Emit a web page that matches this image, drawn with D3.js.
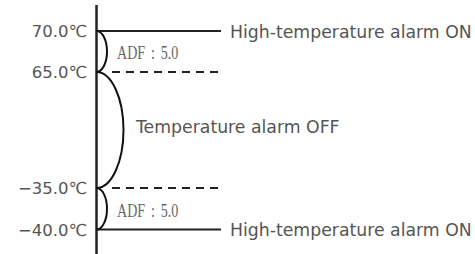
<!DOCTYPE html>
<html>
<head>
<meta charset="utf-8">
<script src="https://cdn.jsdelivr.net/npm/d3@7"></script>
<style>
  html, body { margin: 0; padding: 0; background: #fff; }
  svg { display: block; }
</style>
</head>
<body>
<figure style="margin:0"></figure>
<script>
// set points (°C) from top to bottom
const levels = [70, 65, -35, -40];
const levelLabels = ["70.0℃", "65.0℃", "−35.0℃", "−40.0℃"];
// which levels get a solid alarm line / dashed release line
const alarmLevels = [70, -40];
const releaseLevels = [65, -35];
const alarmText = ["High-temperature alarm ON", "High-temperature alarm ON"];
// brace spans
const adfSpans = [[70, 65], [-35, -40]];
const adfText = ["ADF : 5.0", "ADF : 5.0"];
const offSpan = [65, -35];
const offText = "Temperature alarm OFF";

const width = 475, height = 254;
const axisX = 96.5;
const font = "'DejaVu Sans', sans-serif";
const textColor = "#555";

const svg = d3.select("figure").append("svg")
  .attr("width", width)
  .attr("height", height);

// schematic (non-linear) vertical scale
const y = d3.scaleLinear()
  .domain(levels)
  .range([31, 72, 188, 229.5]);

// vertical axis line
svg.append("line")
  .attr("x1", axisX).attr("x2", axisX)
  .attr("y1", 5).attr("y2", height)
  .attr("stroke", "#222")
  .attr("stroke-width", 2.5);

// level labels on the left
svg.selectAll(".lvl")
  .data(levels)
  .enter()
  .append("text")
  .attr("x", 87)
  .attr("y", d => y(d))
  .attr("dy", "0.38em")
  .attr("text-anchor", "end")
  .style("font-family", font)
  .style("font-size", "16.5px")
  .style("fill", textColor)
  .text((d, i) => levelLabels[i]);

// solid alarm lines
svg.selectAll(".alarm")
  .data(alarmLevels)
  .enter()
  .append("line")
  .attr("x1", axisX).attr("x2", 221)
  .attr("y1", d => y(d)).attr("y2", d => y(d))
  .attr("stroke", "#222")
  .attr("stroke-width", 2);

svg.selectAll(".alarmText")
  .data(alarmLevels)
  .enter()
  .append("text")
  .attr("x", 230)
  .attr("y", d => y(d))
  .attr("dy", "0.4em")
  .style("font-family", font)
  .style("font-size", "17.3px")
  .style("fill", textColor)
  .text((d, i) => alarmText[i]);

// dashed release lines
svg.selectAll(".release")
  .data(releaseLevels)
  .enter()
  .append("line")
  .attr("x1", 112).attr("x2", 218)
  .attr("y1", d => y(d)).attr("y2", d => y(d))
  .attr("stroke", "#222")
  .attr("stroke-width", 2)
  .attr("stroke-dasharray", "8,6");

// braces as half ellipses
function brace(a, b, rx) {
  const y1 = y(a), y2 = y(b);
  const ry = (y2 - y1) / 2;
  return `M${axisX},${y1} A${rx},${ry} 0 0 1 ${axisX},${y2}`;
}

svg.selectAll(".adf")
  .data(adfSpans)
  .enter()
  .append("path")
  .attr("d", d => brace(d[0], d[1], 10.5))
  .attr("fill", "none")
  .attr("stroke", "#111")
  .attr("stroke-width", 2);

svg.append("path")
  .attr("d", brace(offSpan[0], offSpan[1], 27))
  .attr("fill", "none")
  .attr("stroke", "#111")
  .attr("stroke-width", 2);

// condensed serif label, squeezed horizontally
svg.selectAll(".adfText")
  .data(adfSpans)
  .enter()
  .append("text")
  .attr("transform", d => `translate(117,${(y(d[0]) + y(d[1])) / 2}) scale(0.78,1)`)
  .attr("dy", "0.44em")
  .style("font-family", "'Liberation Serif', serif")
  .style("font-size", "18px")
  .style("word-spacing", "3px")
  .style("fill", "#666")
  .text((d, i) => adfText[i]);

svg.append("text")
  .attr("x", 136)
  .attr("y", (y(offSpan[0]) + y(offSpan[1])) / 2)
  .attr("dy", "0.2em")
  .style("font-family", font)
  .style("font-size", "17.3px")
  .style("fill", textColor)
  .text(offText);
</script>
</body>
</html>
